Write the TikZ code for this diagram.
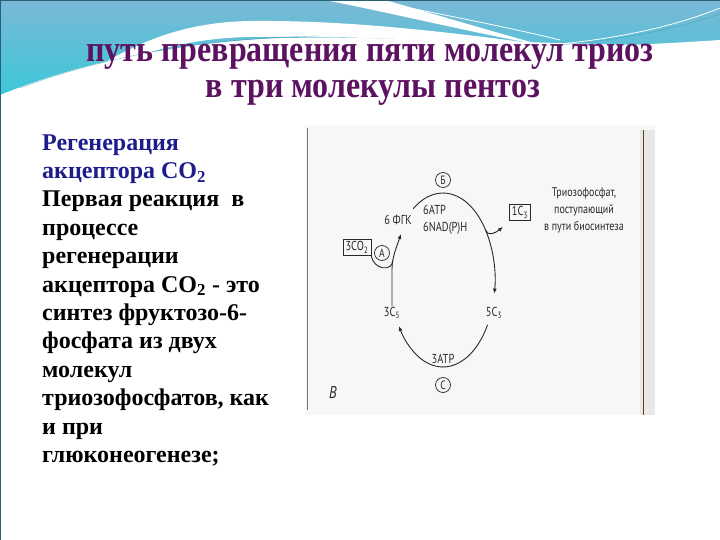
\documentclass[tikz,border=0pt]{standalone}
\usepackage{fontspec}
\setmainfont{Liberation Serif}
\newfontfamily\diagfont[FakeStretch=0.8]{PT Sans}
\usetikzlibrary{arrows.meta}

\definecolor{titlepurple}{RGB}{92,18,96}
\definecolor{textblue}{RGB}{28,28,140}
\definecolor{bandsteel}{RGB}{122,184,214}
\definecolor{bandcyan}{RGB}{60,200,216}
\definecolor{edgeteal}{RGB}{40,96,116}
\definecolor{scangray}{RGB}{247,247,246}
\definecolor{inkgray}{RGB}{40,40,40}

\tikzset{
  lbl/.style={font=\diagfont\fontsize{13}{14}\selectfont, text=inkgray, inner sep=1pt},
  letterc/.style={draw=inkgray, line width=0.7pt, circle, inner sep=0pt, minimum size=15pt,
    font=\diagfont\fontsize{12}{13}\selectfont, text=inkgray},
  boxc/.style={draw=inkgray, line width=0.7pt, inner sep=2.5pt,
    font=\diagfont\fontsize{13}{14}\selectfont, text=inkgray},
  cyc/.style={draw=inkgray, line width=0.9pt},
  arrowc/.style={-{Latex[length=5pt,width=4pt]}},
  headline/.style={font=\fontsize{32}{36}\selectfont\bfseries, text=titlepurple, anchor=base, yscale=1.15}
}

\begin{document}
\begin{tikzpicture}[x=1pt, y=1pt]
    \useasboundingbox (0,-540) rectangle (720,0);
    \fill[white] (0,-540) rectangle (720,0);

    % top band of the slide
    \shade[top color=bandsteel, bottom color=bandcyan]
        (0,0) -- (720,0) -- (720,-46) .. controls (520,-44) and (400,-36) .. (280,-38)
        .. controls (180,-42) and (80,-62) .. (0,-95) -- cycle;
    \fill[white] (80,-78) .. controls (140,-38) and (190,-22) .. (250,-21)
        .. controls (350,-20) and (450,-32) .. (560,-47)
        .. controls (450,-40) and (350,-36) .. (250,-37)
        .. controls (190,-38) and (140,-52) .. (80,-78) -- cycle;
    \fill[white] (325,0) .. controls (400,-15) and (470,-32) .. (545,-46)
        .. controls (480,-28) and (420,-10) .. (385,0) -- cycle;
    \fill[white] (560,-48) -- (720,-48) -- (720,-40) .. controls (660,-44) and (610,-46) .. (560,-48) -- cycle;
    \draw[white, line width=0.8pt] (400,-6) .. controls (460,-18) and (520,-30) .. (560,-40);
    \draw[white, line width=0.8pt] (560,-44) .. controls (640,-36) and (690,-20) .. (720,-8);
    \draw[bandcyan!70!black, line width=0.4pt, opacity=0.6]
        (20,-88) .. controls (100,-58) and (200,-38) .. (320,-36);
    \draw[bandcyan!70!black, line width=0.4pt, opacity=0.5]
        (560,-45) .. controls (640,-38) and (690,-24) .. (720,-14);
    \draw[edgeteal, line width=1.5pt] (0,-540) -- (0,0) -- (720,0);

    % title
    \node[headline] (title) at (370,-62) {путь превращения пяти молекул триоз};
    \node[headline] (subtitle) at (373,-98) {в три молекулы пентоз};

    % left text
    \node[font=\fontsize{24}{28.4}\selectfont\bfseries, align=left, anchor=base west, inner sep=0]
        (regen) at (42,-462.4) {\textcolor{textblue}{Регенерация}\\
        \textcolor{textblue}{акцептора CO\textsubscript{2}}\\
        Первая реакция \ в\\
        процессе\\
        регенерации\\
        акцептора CO\textsubscript{2} - это\\
        синтез фруктозо-6-\\
        фосфата из двух\\
        молекул\\
        триозофосфатов, как\\
        и при\\
        глюконеогенезе;};

    % scanned figure
    \fill[scangray] (305,-125) rectangle (655,-415);
    \fill[black!9] (640,-130) rectangle (655,-415);
    \draw[black!55, line width=0.8pt] (307,-128) -- (307,-410);
    \draw[black!50!brown, line width=0.8pt] (643,-130) -- (643,-415);

    \coordinate (ring) at (443,-280);
    \node[letterc] (circB) at (443,-180) {Б};
    \node[lbl, anchor=west] (atpsix) at (422,-210) {6ATP};
    \node[lbl, anchor=west] (nadph) at (422,-228) {6NAD(P)H};
    \node[lbl] (fgk) at (398,-220) {6 ФГК};
    \node[boxc] (boxco) at (357,-247.5) {3CO\textsubscript{2}};
    \node[letterc] (circA) at (382,-253) {А};
    \node[boxc] (boxct) at (520,-212.5) {1C\textsubscript{3}};
    \node[lbl, align=center, font=\diagfont\fontsize{12.5}{17}\selectfont] (trio) at (584,-210)
        {Триозофосфат,\\поступающий\\в пути биосинтеза};
    \node[lbl] (cfive) at (392,-313) {3C\textsubscript{5}};
    \node[lbl] (cthree) at (494,-313) {5C\textsubscript{3}};
    \node[lbl] (atpthree) at (443,-359) {3ATP};
    \node[letterc] (circC) at (443,-385) {C};
    \node[lbl, font=\diagfont\itshape\fontsize{17}{18}\selectfont] (panel) at (333,-393) {B};

    \coordinate (fgkin) at (401,-234);
    \coordinate (merge) at (392.8,-260.2);
    \coordinate (ctin) at (503,-227);

    \draw[cyc, arrowc] (ring) ++(125:52pt and 87pt)
        arc[start angle=125, end angle=-9, x radius=52pt, y radius=87pt];
    \draw[cyc, arrowc] (ring) ++(-31:52pt and 87pt)
        arc[start angle=-31, end angle=-148, x radius=52pt, y radius=87pt];
    \draw[cyc, arrowc] (cfive.north) -- (392,-269) .. controls (392,-257) and (397,-246) .. (fgkin);
    \draw[cyc] (boxco.south east) .. controls (374,-270) and (392.5,-272) .. (merge);
    \draw[cyc, arrowc] (ring) ++(35:52pt and 87pt) .. controls +(2,-6) and (494,-234) .. (ctin);
\end{tikzpicture}
\end{document}
